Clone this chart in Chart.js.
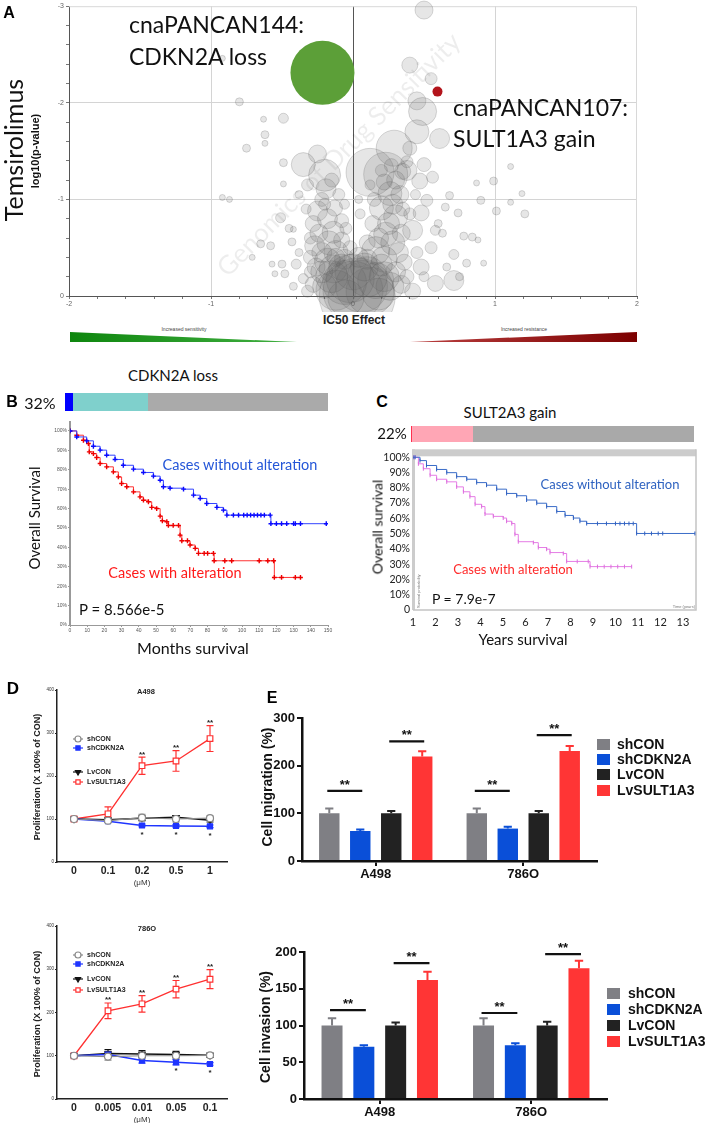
<!DOCTYPE html>
<html>
<head>
<meta charset="utf-8">
<script src="https://cdn.jsdelivr.net/npm/chart.js@4.4.0/dist/chart.umd.min.js"></script>
<style>
body{margin:0;background:#fff;}
#page{position:relative;width:709px;height:1123px;overflow:hidden;background:#fff;}
canvas{position:absolute;}
.t{position:absolute;white-space:nowrap;line-height:1;transform:translate(-50%,-50%);}
.sq{position:absolute;}
</style>
</head>
<body>
<div id="page"></div>
<script>
// ---- panel A: drug sensitivity bubbles (IC50 effect, log10 p, radius px)
const hitX = [-0.215, 0.595];
const hitY = [-2.31, -2.116];
const hitR = [32, 5];
const bubX = [0.50,-0.92,-0.80,-0.49,-0.63,-0.62,-0.62,-0.75,-0.49,-0.35,-0.25,-0.49,-0.92,-0.87,-0.65,-0.58,-0.71,-0.57,-0.50,-0.55,-0.48,-0.43,-0.40,-0.51,-0.45,-0.42,-0.38,-0.35,-0.42,-0.30,-0.33,-0.38,-0.30,
  -0.19,-0.25,-0.13,-0.22,-0.10,-0.28,-0.18,-0.08,-0.24,-0.14,-0.05,-0.27,-0.17,-0.08,-0.22,-0.12,-0.02,-0.30,-0.18,-0.06,-0.26,-0.14,-0.20,-0.06,-0.15,-0.32,
  0.35,0.38,0.26,0.20,0.30,0.23,0.16,0.30,0.22,0.33,0.28,0.15,0.35,0.25,0.34,0.14,0.28,0.18,0.10,0.32,0.22,0.10,0.36,0.27,0.20,0.12,0.05,0.04,
  0.23,0.29,0.49,0.45,0.61,0.40,0.55,0.40,0.38,0.50,0.47,0.56,0.52,0.48,0.42,0.55,0.48,0.58,0.12,-0.20,0.45,
  1.11,0.99,0.87,0.90,1.01,1.11,1.19,1.21,0.68,0.74,0.84,0.80,0.92,0.71,0.58,0.63,0.60,0.71,0.66,0.78,0.88,0.65,0.75,
  0.00,0.06,-0.06,0.12,-0.12,0.16,-0.15,0.22,0.00,0.08,-0.08,0.26,-0.20,0.03,0.30,-0.22,0.18,-0.05,0.10,-0.02,0.34,-0.28,0.04,0.20,-0.12,0.38,0.42,-0.32,
  0.45,0.50,0.40,0.44];
const bubY = [-2.96,-2.46,-2.01,-1.84,-1.83,-1.67,-1.58,-1.53,-1.38,-1.36,-1.47,-1.16,-1.02,-1.00,-0.54,-0.52,-0.40,-0.33,-0.33,-0.23,-0.23,-0.56,-0.33,-0.81,-0.70,-0.69,-0.45,-0.18,-0.10,-0.60,-0.90,-1.05,-0.25,
  -1.11,-0.88,-0.91,-1.00,-1.05,-0.75,-0.80,-0.78,-0.65,-0.66,-0.70,-0.52,-0.55,-0.58,-0.45,-0.45,-0.50,-0.40,-0.36,-0.38,-0.30,-0.28,-0.95,-0.95,-1.20,-1.15,
  -1.29,-1.39,-1.06,-0.91,-0.82,-0.64,-0.47,-1.20,-1.18,-1.05,-0.95,-1.00,-0.90,-0.75,-0.65,-0.75,-0.55,-0.60,-0.55,-0.45,-0.38,-0.38,-0.35,-1.35,-1.30,-1.15,-0.85,-1.00,
  -1.26,-1.53,-1.91,-1.70,-1.63,-2.39,-2.25,-1.53,-1.30,-1.36,-1.19,-1.23,-0.99,-0.86,-0.68,-0.50,-0.30,-0.13,-1.28,-1.25,-2.02,
  -1.34,-1.19,-1.17,-0.99,-0.88,-0.97,-1.06,-0.85,-1.04,-0.86,-0.61,-0.34,-0.34,-0.16,-0.68,-0.65,-0.75,-0.43,-0.30,-0.62,-0.58,-0.92,-0.20,
  -0.05,-0.10,-0.14,-0.05,-0.06,-0.16,-0.20,-0.20,-0.25,-0.30,-0.30,-0.10,-0.10,0.00,-0.25,-0.25,-0.02,0.02,-0.20,-0.18,-0.12,-0.12,-0.40,-0.32,-0.40,-0.20,-0.05,-0.05,
  -0.45,-0.20,-0.85,-1.05];
const bubR = [9,3,4,5,3,4,3,4,4,12,9,3,3,3,4,4,3,3,4,3,4,4,5,5,4,3,4,5,4,6,5,4,6,
  10,10,8,7,6,8,10,7,9,11,6,10,12,8,10,12,7,7,13,10,9,14,6,5,7,6,
  8,6,12,12,12,12,14,9,8,9,10,7,7,11,9,8,12,10,8,10,13,10,8,7,6,5,5,4,
  22,18,14,12,10,8,6,7,10,7,8,6,6,8,10,6,8,8,24,16,9,
  3,4,3,4,4,3,3,4,4,4,4,4,3,10,5,4,4,5,4,4,3,4,4,
  30,26,22,24,20,18,16,15,18,14,13,14,12,38,10,11,16,18,20,24,9,8,10,11,9,7,8,6,
  6,5,6,5];

// ---- panel B: CDKN2A loss, months vs % survival
const bMonthsNo = [0,3.9,9.7,13.6,17.5,21.3,26.2,31,36.9,42.7,48.5,52.4,54.3,58.2,66,71.8,75.7,79.5,85.4,89.2,91.2,95,98,101,103,105,107,109,111,113,116.4,116.8,120,123,126,130,131,134,149];
const bSurvNo = [100,96.9,94.9,92.1,90.1,87.5,85.3,82.3,80.3,78.6,76.7,74.6,71.2,70.5,70,66.9,65.2,62.6,60.6,59.2,56.6,56.6,56.6,56.6,56.6,56.6,56.6,56.6,56.6,56.6,56.6,52.2,52.2,52.2,52.2,52.2,52.2,52.2,52.2];
const bMonthsAlt = [0,3.9,7.8,10.7,11.2,13.6,15.5,17.5,21.3,25.2,28.1,30,33,36.9,40.7,42.7,45.6,47.5,50.4,52.4,53.7,56.3,57.2,60,63.1,64,65,68.3,69.8,72.8,74.7,78,80,83.4,83.8,90,94,110,115,118.4,118.8,123,131,134];
const bSurvAlt = [100,97.8,95.2,93.5,89.2,88.3,86.3,83.2,81.5,78.9,76.3,72.9,71.2,68.6,66,64.3,63.5,60.6,60,56.1,53.7,53.2,51.3,51.3,51.3,46.3,43.4,43.4,41.2,39.5,36.9,36.9,36.9,36.9,33.1,33.1,33.1,33.1,33.1,33.1,24.5,24.5,24.5,24.5];

// ---- panel C: SULT2A3 gain, years vs % survival
const cYearsNo = [1,1.09,1.31,1.6,2.05,2.5,2.94,3.39,3.83,4.27,4.72,5.16,5.61,6.05,6.5,6.94,7.39,7.76,8.13,8.42,8.72,9.2,9.6,10,10.2,10.4,10.6,10.79,10.94,11.3,11.6,11.9,12.1,13.53];
const cSurvNo = [100,100,97.8,94.6,92,89.9,87.3,85.6,83.4,81.7,79.1,76.3,74.8,72,69.9,67.7,64.5,61.9,60.2,58.1,56.6,56.6,56.6,56.6,56.6,56.6,56.6,56.6,50.1,50.1,50.1,50.1,50.1,50.1];
const cYearsAlt = [1,1.09,1.24,1.46,1.76,2.05,2.5,2.94,3.24,3.53,3.76,4.05,4.2,4.57,5.01,5.16,5.39,5.53,5.68,6.35,6.57,6.94,7.09,7.68,7.83,8.3,8.79,8.87,9.2,9.5,9.8,10.1,10.4,10.72];
const cSurvAlt = [100,100,95.7,92.5,88.2,85.6,83.9,80.6,77.4,74.2,69.2,67.7,62.8,61.3,60.2,58.1,56.6,49.5,44.7,44.1,40.9,39.8,37.6,37,31.8,31.8,31.8,28.4,28.4,28.4,28.4,28.4,28.4,28.4];

// ---- panel D: proliferation
const doseA498 = ['0','0.1','0.2','0.5','1'];
const a498ShCon = [100,96,103,100,102],  a498ShConErr = [3,3,8,7,5];
const a498ShCdkn = [100,95,85,84,83],    a498ShCdknErr = [3,3,3,3,3];
const a498LvCon = [100,98,102,104,97],   a498LvConErr = [3,4,5,4,4];
const a498LvSult = [100,112,224,235,287], a498LvSultErr = [4,16,20,24,30];
const a498Up = ['','','**','**','**'], a498Down = ['','','*','*','*'];
const dose786 = ['0','0.005','0.01','0.05','0.1'];
const o786ShCon = [100,98,100,100,101],  o786ShConErr = [3,8,8,6,5];
const o786ShCdkn = [100,103,89,85,81],   o786ShCdknErr = [3,5,6,6,3];
const o786LvCon = [100,105,104,103,101], o786LvConErr = [3,9,8,7,5];
const o786LvSult = [100,204,220,254,277], o786LvSultErr = [4,18,19,20,22];
const o786Up = ['','**','**','**','**'], o786Down = ['','','','*','*'];

// ---- panel E: migration / invasion
const cellLines = ['A498','786O'];
const groupNames = ['shCON','shCDKN2A','LvCON','LvSULT1A3'];
const migVals = [[100,100],[63,68],[100,100],[219,231]];
const migErrs = [[10,10],[3,4],[5,5],[11,10]];
const migSigY = [147,251,147,264];
const invVals = [[100,100],[71,73],[100,100],[162,178]];
const invErrs = [[10,10],[2,3],[4,5],[11,10]];
const invSigY = [121,185,117,197];

Chart.defaults.font.family = "'Liberation Sans', Arial, sans-serif";
Chart.defaults.color = '#222';

const page = document.getElementById('page');
function addCanvas(b) {
  const c = document.createElement('canvas');
  c.width = b.w; c.height = b.h;
  c.style.left = b.x + 'px'; c.style.top = b.y + 'px';
  c.style.width = b.w + 'px'; c.style.height = b.h + 'px';
  page.appendChild(c);
  return c;
}
// plot box (page coords) -> padding + axis sizes
function frame(cv, a) {
  return {pad: {left: 0, top: a.t - cv.y, right: cv.x + cv.w - a.r, bottom: 0},
          yw: a.l - cv.x, xh: cv.y + cv.h - a.b};
}
function txt(s, x, y, css, align) {
  const d = document.createElement('div');
  d.className = 't';
  d.textContent = s;
  d.style.cssText = 'left:' + x + 'px;top:' + y + 'px;' + css;
  if (align === 'left') d.style.transform = 'translate(0,-50%)';
  if (align === 'rot') d.style.transform = 'translate(-50%,-50%) rotate(-90deg)';
  page.appendChild(d);
  return d;
}
function box(x, y, w, h, css) {
  const d = document.createElement('div');
  d.className = 'sq';
  d.style.cssText = 'left:' + x + 'px;top:' + y + 'px;width:' + w + 'px;height:' + h + 'px;' + css;
  page.appendChild(d);
}
const isInt = v => Math.abs(v - Math.round(v)) < 1e-6;
const base = {responsive: false, animation: false, events: [], plugins: {legend: {display: false}, tooltip: {enabled: false}}};

/*===== PANEL A =====*/
const aDecor = {
  id: 'aDecor',
  beforeDatasetsDraw(ch) {
    const ctx = ch.ctx, a = ch.chartArea;
    ctx.save();
    ctx.strokeStyle = '#d8d8d8'; ctx.lineWidth = 1;
    ctx.beginPath(); ctx.moveTo(a.left, a.top + 0.5); ctx.lineTo(a.right - 0.5, a.top + 0.5); ctx.lineTo(a.right - 0.5, a.bottom); ctx.stroke();
    ctx.translate(339, 155); ctx.rotate(-Math.PI / 4);
    ctx.font = '26px Lato'; ctx.fillStyle = 'rgba(0,0,0,0.07)';
    ctx.textAlign = 'center'; ctx.textBaseline = 'middle';
    ctx.fillText('Genomics of Drug Sensitivity', 0, 0);
    ctx.restore();
  }
};
const cvA = {x: 0, y: 0, w: 709, h: 312};
const fA = frame(cvA, {l: 69, t: 4, r: 637, b: 296});
new Chart(addCanvas(cvA), {
  type: 'bubble',
  data: {datasets: [
    {data: hitX.map((x, i) => ({x: x, y: hitY[i], r: hitR[i]})), backgroundColor: ['#5c9f38', '#b3141b'], borderWidth: 0, clip: false},
    {data: bubX.map((x, i) => ({x: x, y: bubY[i], r: bubR[i]})), backgroundColor: 'rgba(100,100,100,0.16)', borderColor: 'rgba(85,85,85,0.28)', borderWidth: 0.8, clip: false}
  ]},
  options: Object.assign({}, base, {
    layout: {padding: fA.pad, autoPadding: false},
    scales: {
      x: {type: 'linear', min: -2, max: 2, afterFit: s => { s.height = fA.xh; },
        ticks: {stepSize: 0.2, autoSkip: false, maxRotation: 0, callback: v => isInt(v) ? String(Math.round(v)) : '', font: {size: 7}, color: '#666', padding: 1},
        grid: {color: c => isInt(c.tick.value) ? (Math.abs(c.tick.value) < 1e-6 ? '#555' : (Math.abs(c.tick.value) < 1.5 ? '#d4d4d4' : 'rgba(0,0,0,0)')) : 'rgba(0,0,0,0)', tickColor: '#777', tickLength: 3},
        border: {color: '#555'}},
      y: {min: -3, max: 0, reverse: true, afterFit: s => { s.width = fA.yw; },
        ticks: {stepSize: 0.2, autoSkip: false, callback: v => isInt(v) ? String(Math.round(v)) : '', font: {size: 7}, color: '#666', padding: 2},
        grid: {color: c => (isInt(c.tick.value) && c.tick.value < -0.5 && c.tick.value > -2.5) ? '#d4d4d4' : 'rgba(0,0,0,0)', tickColor: '#777', tickLength: 3},
        border: {color: '#555'}}
    }
  }),
  plugins: [aDecor]
});
txt('A', 9, 13, 'font:bold 16px Liberation Sans;');
txt('Temsirolimus', 13, 150, 'font:25px Lato;color:#111;', 'rot');
txt('log10(p-value)', 35, 151, 'font:bold 11px Liberation Sans;color:#111;', 'rot');
txt('cnaPANCAN144:', 129, 24, 'font:23px Lato;color:#111;', 'left');
txt('CDKN2A loss', 129, 56, 'font:23px Lato;color:#111;', 'left');
txt('cnaPANCAN107:', 453, 107, 'font:23px Lato;color:#111;', 'left');
txt('SULT1A3 gain', 453, 138, 'font:23px Lato;color:#111;', 'left');
txt('IC50 Effect', 354, 320, 'font:bold 12px Liberation Sans;color:#222;');
txt('Increased sensitivity', 184, 329, 'font:5px Liberation Sans;color:#444;');
txt('Increased resistance', 524, 329, 'font:5px Liberation Sans;color:#444;');
box(70, 332, 227, 10, 'background:linear-gradient(to right,#0e860e,#42b042);clip-path:polygon(0 0,100% 100%,0 100%);');
box(410, 332, 227, 10, 'background:linear-gradient(to right,#bb4040,#7c0000);clip-path:polygon(100% 0,100% 100%,0 100%);');

/*===== PANEL B =====*/
const cvB = {x: 40, y: 414, w: 300, h: 222};
const fB = frame(cvB, {l: 70, t: 422, r: 328, b: 625});
new Chart(addCanvas(cvB), {
  type: 'line',
  data: {datasets: [
    {data: bMonthsNo.map((x, i) => ({x: x, y: bSurvNo[i]})), borderColor: '#3344ff', borderWidth: 1, stepped: 'before', pointStyle: 'cross', pointRadius: 2.4, pointBorderWidth: 1.4, pointBorderColor: '#0a0aff', fill: false},
    {data: bMonthsAlt.map((x, i) => ({x: x, y: bSurvAlt[i]})), borderColor: '#ff3333', borderWidth: 1, stepped: 'before', pointStyle: 'cross', pointRadius: 2.4, pointBorderWidth: 1.4, pointBorderColor: '#ee0000', fill: false}
  ]},
  options: Object.assign({}, base, {
    layout: {padding: fB.pad},
    scales: {
      x: {type: 'linear', min: 0, max: 150, afterFit: s => { s.height = fB.xh; },
        ticks: {stepSize: 10, autoSkip: false, maxRotation: 0, font: {size: 5}, color: '#555', padding: 1},
        grid: {drawOnChartArea: false, tickLength: 2, color: '#999'}, border: {color: '#999', width: 1}},
      y: {min: 0, max: 104.6, afterFit: s => { s.width = fB.yw; },
        ticks: {stepSize: 10, includeBounds: false, autoSkip: false, callback: v => v + '%', font: {size: 5}, color: '#555', padding: 1},
        grid: {drawOnChartArea: false, tickLength: 2, color: '#999'}, border: {color: '#999', width: 2}}
    }
  })
});
txt('CDKN2A loss', 173, 375, 'font:15px Lato;color:#111;');
txt('B', 12, 402, 'font:bold 16px Liberation Sans;');
txt('32%', 40, 402, 'font:16px Lato;color:#111;');
box(65, 393, 8, 18, 'background:#0000ff;');
box(73, 393, 75, 18, 'background:#7fd0cc;');
box(148, 393, 180, 18, 'background:#aaaaaa;');
txt('Overall Survival', 34, 518, 'font:15px Lato;color:#111;', 'rot');
txt('Cases without alteration', 240, 464, 'font:14.5px Lato;color:#2456d8;');
txt('Cases with alteration', 175, 572, 'font:14.5px Lato;color:#ff1a1a;');
txt('P = 8.566e-5', 79, 609, 'font:15px Lato;color:#111;', 'left');
txt('Months survival', 193, 647, 'font:16px Lato;color:#111;');

/*===== PANEL C =====*/
const cFrame = {
  id: 'cFrame',
  beforeDatasetsDraw(ch) {
    const ctx = ch.ctx, a = ch.chartArea;
    ctx.save();
    ctx.fillStyle = '#cccccc';
    ctx.fillRect(a.left - 1, a.top, a.right - a.left + 1, 7);
    ctx.fillRect(a.left - 1, a.top, 3, a.bottom - a.top);
    ctx.strokeStyle = '#c4c4c4'; ctx.lineWidth = 1.5;
    ctx.beginPath(); ctx.moveTo(a.left, a.bottom); ctx.lineTo(a.right, a.bottom); ctx.lineTo(a.right, a.top); ctx.stroke();
    ctx.fillStyle = '#777'; ctx.font = '4px Liberation Sans';
    ctx.textAlign = 'right'; ctx.textBaseline = 'bottom';
    ctx.fillText('Time (years)', a.right - 1, a.bottom - 1);
    ctx.translate(a.left + 6, a.bottom - 2); ctx.rotate(-Math.PI / 2);
    ctx.textAlign = 'left'; ctx.textBaseline = 'middle';
    ctx.fillText('Survival probability', 0, 0);
    ctx.restore();
  }
};
const cvC = {x: 370, y: 440, w: 335, h: 195};
const fC = frame(cvC, {l: 413, t: 447, r: 696, b: 610});
new Chart(addCanvas(cvC), {
  type: 'line',
  data: {datasets: [
    {data: cYearsNo.map((x, i) => ({x: x, y: cSurvNo[i]})), borderColor: '#3a6cc8', borderWidth: 1, stepped: 'before', pointStyle: 'line', pointRotation: 90, pointRadius: 2, pointBorderWidth: 1, pointBorderColor: '#2f5fbf', fill: false},
    {data: cYearsAlt.map((x, i) => ({x: x, y: cSurvAlt[i]})), borderColor: '#e57ce5', borderWidth: 1, stepped: 'before', pointStyle: 'line', pointRotation: 90, pointRadius: 2, pointBorderWidth: 1, pointBorderColor: '#dd6ddd', fill: false}
  ]},
  options: Object.assign({}, base, {
    layout: {padding: fC.pad},
    scales: {
      x: {type: 'linear', min: 1, max: 13.58, afterFit: s => { s.height = fC.xh; },
        ticks: {stepSize: 1, includeBounds: false, autoSkip: false, maxRotation: 0, font: {size: 11, family: 'Lato'}, color: '#222', padding: 6},
        grid: {display: false, drawTicks: false}, border: {display: false}},
      y: {min: 0, max: 105.2, afterFit: s => { s.width = fC.yw; },
        ticks: {stepSize: 10, includeBounds: false, autoSkip: false, callback: v => v ? v + '%' : '0', font: {size: 10.5, family: 'Lato'}, color: '#222', padding: 3},
        grid: {display: false, drawTicks: false}, border: {display: false}}
    }
  }),
  plugins: [cFrame]
});
txt('C', 382, 402, 'font:bold 16px Liberation Sans;');
txt('SULT2A3 gain', 510, 412, 'font:15px Lato;color:#111;');
txt('22%', 392, 433, 'font:15px Lato;color:#111;');
box(411, 426, 62, 16, 'background:#ffa6b5;border-left:1px solid #ff3050;box-sizing:border-box;');
box(473, 426, 221, 16, 'background:#a9a9a9;');
txt('Overall survival', 377, 527, 'font:14px Lato;color:#111;', 'rot');
txt('Cases without alteration', 610, 484, 'font:13px Lato;color:#2e62c0;');
txt('Cases with alteration', 513, 569, 'font:13px Lato;color:#ff2a2a;');
txt('P = 7.9e-7', 432, 598, 'font:14px Lato;color:#111;', 'left');
txt('Years survival', 523, 639, 'font:15px Lato;color:#111;');

/*===== PANEL D =====*/
const errBars = {
  id: 'errBars',
  beforeDatasetsDraw(ch) {
    const ctx = ch.ctx, ys = ch.scales.y;
    ch.data.datasets.forEach((ds, i) => {
      const meta = ch.getDatasetMeta(i);
      ctx.save();
      ctx.strokeStyle = ds.borderColor; ctx.lineWidth = 1.2;
      meta.data.forEach((pt, j) => {
        const e = ds.errors[j], v = ds.data[j];
        const y1 = ys.getPixelForValue(v + e), y2 = ys.getPixelForValue(v - e);
        ctx.beginPath();
        ctx.moveTo(pt.x, y1); ctx.lineTo(pt.x, y2);
        ctx.moveTo(pt.x - 3.5, y1); ctx.lineTo(pt.x + 3.5, y1);
        ctx.moveTo(pt.x - 3.5, y2); ctx.lineTo(pt.x + 3.5, y2);
        ctx.stroke();
      });
      ctx.restore();
    });
  }
};
const dMarks = {
  id: 'dMarks',
  afterDatasetsDraw(ch, args, o) {
    const ctx = ch.ctx, ys = ch.scales.y, a = ch.chartArea;
    const up = ch.data.datasets[3], dn = ch.data.datasets[1];
    const mu = ch.getDatasetMeta(3), md = ch.getDatasetMeta(1);
    ctx.save();
    ctx.fillStyle = '#222'; ctx.font = 'bold 8px Liberation Sans'; ctx.textAlign = 'center';
    ctx.textBaseline = 'alphabetic';
    o.up.forEach((s, j) => { if (s) ctx.fillText(s, mu.data[j].x, ys.getPixelForValue(up.data[j] + up.errors[j]) - 0.5); });
    ctx.textBaseline = 'top';
    o.down.forEach((s, j) => { if (s) ctx.fillText(s, md.data[j].x, ys.getPixelForValue(dn.data[j]) + 5); });
    // legend
    ch.data.datasets.forEach((ds, i) => {
      const x = a.left + 21, y = a.top + o.rows[i];
      ctx.strokeStyle = ds.borderColor; ctx.lineWidth = 1.2;
      ctx.beginPath(); ctx.moveTo(x - 5, y); ctx.lineTo(x + 5, y); ctx.stroke();
      ctx.fillStyle = ds.pointBackgroundColor;
      Chart.helpers.drawPoint(ctx, {pointStyle: ds.pointStyle, rotation: ds.pointRotation || 0, radius: 3, borderWidth: 1.2}, x, y);
      ctx.fillStyle = '#222'; ctx.font = 'bold 7px Liberation Sans';
      ctx.textAlign = 'left'; ctx.textBaseline = 'middle';
      ctx.fillText(ds.label, x + 9, y + 0.5);
    });
    ctx.restore();
  }
};
function dChart(cv, area, labels, sets, errs, up, down, rows) {
  const f = frame(cv, area);
  const styles = [
    {label: 'shCON', borderColor: '#8a8a8a', pointStyle: 'circle', pointBackgroundColor: '#fff', pointRadius: 3.5, borderWidth: 1.2},
    {label: 'shCDKN2A', borderColor: '#1f35ff', pointStyle: 'rect', pointBackgroundColor: '#1f35ff', pointRadius: 3.5, borderWidth: 1.5},
    {label: 'LvCON', borderColor: '#111111', pointStyle: 'triangle', pointRotation: 180, pointBackgroundColor: '#111111', pointRadius: 3.5, borderWidth: 1.5},
    {label: 'LvSULT1A3', borderColor: '#ff3030', pointStyle: 'rect', pointBackgroundColor: '#fff', pointRadius: 4, borderWidth: 1.3}
  ];
  new Chart(addCanvas(cv), {
    type: 'line',
    data: {labels: labels, datasets: styles.map((s, i) => Object.assign({data: sets[i], errors: errs[i], pointBorderColor: s.borderColor, pointBorderWidth: 1.2, fill: false}, s))},
    options: Object.assign({}, base, {
      layout: {padding: f.pad},
      plugins: {legend: {display: false}, tooltip: {enabled: false}, dMarks: {up: up, down: down, rows: rows}},
      scales: {
        x: {type: 'category', offset: true, afterFit: s => { s.height = f.xh; },
          ticks: {font: {size: 10.5, weight: 'bold'}, color: '#222', padding: 3},
          grid: {display: false, drawTicks: false}, border: {color: '#222', width: 1.5}},
        y: {min: 0, max: 400, afterFit: s => { s.width = f.yw; },
          ticks: {stepSize: 100, font: {size: 4.5}, color: '#333', padding: 1},
          grid: {drawOnChartArea: false, tickLength: 2, color: '#222'}, border: {color: '#222', width: 1.5}}
      }
    }),
    plugins: [errBars, dMarks]
  });
}
dChart({x: 20, y: 684, w: 220, h: 195}, {l: 57, t: 690, r: 227, b: 862}, doseA498,
  [a498ShCon, a498ShCdkn, a498LvCon, a498LvSult], [a498ShConErr, a498ShCdknErr, a498LvConErr, a498LvSultErr],
  a498Up, a498Down, [49, 58, 82, 92]);
dChart({x: 20, y: 920, w: 220, h: 195}, {l: 57, t: 926, r: 227, b: 1099}, dose786,
  [o786ShCon, o786ShCdkn, o786LvCon, o786LvSult], [o786ShConErr, o786ShCdknErr, o786LvConErr, o786LvSultErr],
  o786Up, o786Down, [29, 38, 53, 64]);
txt('D', 13, 689, 'font:bold 17px Liberation Sans;');
txt('A498', 146, 691, 'font:bold 7.5px Liberation Sans;color:#222;');
txt('Proliferation (X 100% of CON)', 37, 777, 'font:bold 9px Liberation Sans;color:#222;', 'rot');
txt('(\u03bcM)', 142, 882, 'font:8px Liberation Sans;color:#333;');
txt('786O', 147, 928, 'font:bold 7.5px Liberation Sans;color:#222;');
txt('Proliferation (X 100% of CON)', 37, 1014, 'font:bold 9px Liberation Sans;color:#222;', 'rot');
txt('(\u03bcM)', 142, 1119, 'font:8px Liberation Sans;color:#333;');

/*===== PANEL E =====*/
const barColors = ['#7f7f84', '#0a4fd8', '#222222', '#ff3535'];
const barMarks = {
  id: 'barMarks',
  afterDatasetsDraw(ch, args, o) {
    const ctx = ch.ctx, ys = ch.scales.y;
    ctx.save();
    ch.data.datasets.forEach((ds, i) => {
      ch.getDatasetMeta(i).data.forEach((b, j) => {
        const top = ys.getPixelForValue(ds.data[j] + ds.errors[j]), w = b.width * 0.2;
        ctx.strokeStyle = ds.backgroundColor; ctx.lineWidth = 2;
        ctx.beginPath(); ctx.moveTo(b.x, b.y); ctx.lineTo(b.x, top);
        ctx.moveTo(b.x - w, top); ctx.lineTo(b.x + w, top); ctx.stroke();
      });
    });
    o.levels.forEach((v, k) => {
      const cat = Math.floor(k / 2), p = k % 2 ? [2, 3] : [0, 1];
      const x1 = ch.getDatasetMeta(p[0]).data[cat].x - 2, x2 = ch.getDatasetMeta(p[1]).data[cat].x + 2;
      const y = ys.getPixelForValue(v);
      ctx.strokeStyle = '#111'; ctx.lineWidth = 2.2;
      ctx.beginPath(); ctx.moveTo(x1, y); ctx.lineTo(x2, y); ctx.stroke();
      ctx.fillStyle = '#111'; ctx.font = 'bold 13px Liberation Sans';
      ctx.textAlign = 'center'; ctx.textBaseline = 'alphabetic';
      ctx.fillText('**', (x1 + x2) / 2, y - 2);
    });
    ctx.restore();
  }
};
function eChart(cv, area, vals, errs, yMax, yStep, levels) {
  const f = frame(cv, area);
  new Chart(addCanvas(cv), {
    type: 'bar',
    data: {labels: cellLines, datasets: groupNames.map((g, i) => ({label: g, data: vals[i], errors: errs[i], backgroundColor: barColors[i], categoryPercentage: 0.84, barPercentage: 0.66}))},
    options: Object.assign({}, base, {
      layout: {padding: f.pad},
      plugins: {legend: {display: false}, tooltip: {enabled: false}, barMarks: {levels: levels}},
      scales: {
        x: {offset: true, afterFit: s => { s.height = f.xh; },
          ticks: {font: {size: 13, weight: 'bold'}, color: '#111', padding: 1},
          grid: {drawOnChartArea: false, offset: false, tickLength: 5, color: '#111', lineWidth: 2}, border: {color: '#111', width: 2.5}},
        y: {min: 0, max: yMax, afterFit: s => { s.width = f.yw; },
          ticks: {stepSize: yStep, font: {size: 13, weight: 'bold'}, color: '#111', padding: 2},
          grid: {drawOnChartArea: false, tickLength: 5, color: '#111', lineWidth: 2}, border: {color: '#111', width: 2.5}}
      }
    }),
    plugins: [barMarks]
  });
}
eChart({x: 250, y: 705, w: 360, h: 180}, {l: 302, t: 718, r: 597, b: 861}, migVals, migErrs, 300, 100, migSigY);
eChart({x: 250, y: 940, w: 370, h: 180}, {l: 304, t: 952, r: 607, b: 1099}, invVals, invErrs, 200, 50, invSigY);
txt('E', 272, 698, 'font:bold 16px Liberation Sans;');
txt('Cell migration (%)', 267, 787, 'font:bold 14px Liberation Sans;color:#111;', 'rot');
txt('Cell invasion (%)', 265, 1027, 'font:bold 14px Liberation Sans;color:#111;', 'rot');
[[597, 617, [744, 759, 774, 790]], [607, 628, [993, 1009, 1025, 1041]]].forEach(L => {
  groupNames.forEach((g, i) => {
    box(L[0], L[2][i] - 5, 13, 11, 'background:' + barColors[i] + ';');
    txt(g, L[1], L[2][i], 'font:bold 14px Liberation Sans;color:#111;', 'left');
  });
});
</script>
</body>
</html>
